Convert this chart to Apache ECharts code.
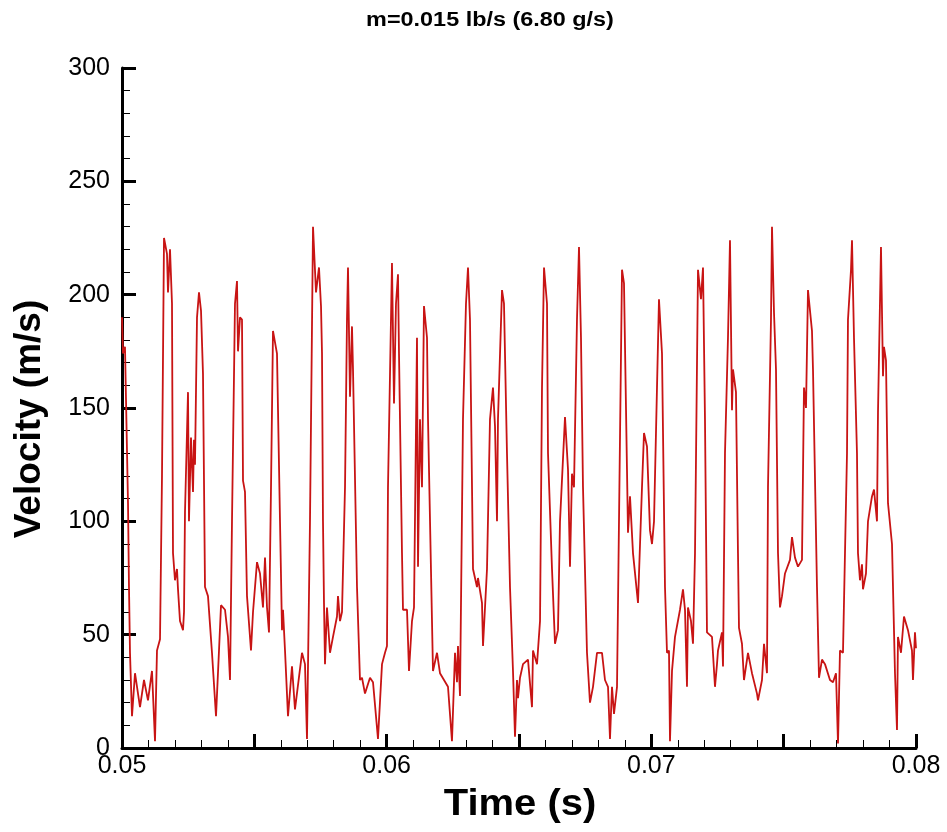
<!DOCTYPE html>
<html>
<head>
<meta charset="utf-8">
<script src="https://cdn.jsdelivr.net/npm/echarts@6/dist/echarts.min.js"></script>
<style>
html,body{margin:0;padding:0;background:#fff;}
#chart{width:947px;height:832px;}
</style>
</head>
<body>
<div id="chart"></div>
<script>
// Time in milliseconds
var timeMs = [50.000,50.038,50.113,50.151,50.227,50.264,50.302,50.378,50.491,50.680,50.831,50.982,51.133,51.247,51.322,51.436,51.511,51.587,51.700,51.738,51.814,51.889,51.927,52.002,52.078,52.116,52.191,52.305,52.343,52.380,52.494,52.531,52.607,52.683,52.720,52.758,52.834,52.909,52.985,53.060,53.136,53.249,53.400,53.552,53.665,53.741,53.892,54.005,54.081,54.156,54.269,54.345,54.383,54.458,54.534,54.572,54.647,54.723,54.874,54.950,55.101,55.214,55.327,55.403,55.479,55.554,55.630,55.705,55.856,55.970,56.045,56.083,56.159,56.272,56.423,56.536,56.801,56.914,56.990,57.103,57.217,57.330,57.443,57.519,57.557,57.594,57.632,57.670,57.745,57.859,57.972,58.123,58.161,58.237,58.312,58.426,58.501,58.539,58.615,58.690,58.728,58.879,58.992,59.068,59.181,59.370,59.484,59.672,59.824,59.937,60.012,60.050,60.201,60.277,60.352,60.428,60.466,60.579,60.617,60.768,60.844,60.957,61.033,61.146,61.184,61.259,61.335,61.410,61.524,61.562,61.750,61.902,62.015,62.317,62.468,62.582,62.657,62.695,62.771,62.884,62.997,63.073,63.148,63.262,63.413,63.451,63.602,63.640,63.791,63.904,64.017,64.093,64.169,64.206,64.358,64.433,64.546,64.660,64.773,64.849,64.924,64.962,65.038,65.151,65.340,65.491,65.529,65.680,65.794,65.869,65.945,66.058,66.096,66.247,66.360,66.473,66.549,66.738,66.851,66.927,67.002,67.078,67.191,67.267,67.342,67.418,67.569,67.682,67.796,67.947,68.136,68.249,68.363,68.438,68.514,68.589,68.703,68.778,68.892,68.967,69.080,69.118,69.194,69.307,69.496,69.647,69.723,69.836,69.949,70.025,70.101,70.214,70.289,70.403,70.516,70.592,70.667,70.705,70.781,70.894,71.083,71.196,71.272,71.347,71.385,71.498,71.574,71.650,71.763,71.876,71.952,72.027,72.103,72.292,72.405,72.481,72.519,72.670,72.708,72.783,72.896,72.972,73.048,73.085,73.198,73.274,73.312,73.425,73.501,73.652,73.803,73.992,74.030,74.181,74.257,74.370,74.408,74.521,74.559,74.635,74.710,74.786,74.861,74.937,75.050,75.239,75.315,75.428,75.541,75.692,75.768,75.844,75.919,76.070,76.108,76.259,76.335,76.448,76.561,76.750,76.864,76.977,77.053,77.128,77.241,77.393,77.430,77.544,77.582,77.657,77.770,77.808,77.884,77.959,77.997,78.110,78.186,78.337,78.413,78.526,78.564,78.677,78.753,78.790,78.866,78.942,79.093,79.206,79.282,79.319,79.433,79.546,79.697,79.848,79.886,79.961,80.000];
// Velocity in m/s
var velocity = [190,174,177,154,108,71,42,14,33,18,30,21,34,3,43,48,120,225,218,201,220,196,86,74,79,70,56,52,60,104,157,100,137,113,136,125,190,201,193,165,71,67,42,14,43,63,61,49,30,100,196,206,175,190,189,118,113,67,43,60,82,77,62,84,62,51,115,184,174,100,52,61,43,14,36,17,42,37,4,100,230,201,212,195,174,100,64,37,62,42,49,58,67,56,60,115,189,212,155,186,167,71,30,31,24,31,29,4,37,42,45,115,214,152,196,209,174,86,61,61,34,56,62,181,80,145,115,195,181,145,34,42,33,27,3,42,29,45,23,145,196,212,189,79,71,75,64,45,79,145,159,142,100,145,202,196,130,71,34,5,30,22,31,37,39,18,43,37,56,159,212,196,130,79,46,52,100,146,123,80,121,115,189,221,181,115,42,20,27,42,42,30,27,4,27,15,27,100,211,205,123,95,111,86,64,115,139,133,96,90,100,159,198,174,71,42,43,3,34,49,61,70,61,27,62,56,46,86,211,198,212,145,51,49,27,37,43,51,36,130,181,224,149,167,157,86,53,46,30,42,33,24,21,30,46,33,115,189,230,192,167,86,62,67,77,83,93,84,80,83,159,150,202,184,167,71,31,39,37,30,29,33,2,43,42,130,189,211,224,181,130,86,74,81,70,77,100,111,114,100,148,221,164,177,171,108,90,33,8,49,42,58,52,43,30,51,44];
var xLabels = ['0.05','0.06','0.07','0.08'];
var yTicks = [0,50,100,150,200,250,300];
var titleText = 'm=0.015 lb/s (6.80 g/s)';
var xName = 'Time (s)';
var yName = 'Velocity (m/s)';

var data = timeMs.map(function(t,i){return [t/1000, velocity[i]];});
var font = "'Liberation Sans', Arial, Helvetica, sans-serif";

var chart = echarts.init(document.getElementById('chart'), null, {renderer:'canvas'});
chart.setOption({
  animation:false,
  backgroundColor:'#ffffff',
  grid:{left:122, right:31, top:68, bottom:84, containLabel:false},
  graphic:[
    {type:'text', x:490, y:20, scaleX:1.17, style:{text:titleText, x:0, y:0, textAlign:'center', textVerticalAlign:'middle', font:'bold 20px '+font, fill:'#000'}},
    {type:'text', x:520, y:805, scaleX:1.08, style:{text:xName, x:0, y:0, textAlign:'center', textVerticalAlign:'middle', font:'bold 37px '+font, fill:'#000'}},
    {type:'text', x:30, y:419, rotation:Math.PI/2, style:{text:yName, x:0, y:0, textAlign:'center', textVerticalAlign:'middle', font:'bold 37px '+font, fill:'#000'}}
  ],
  xAxis:{
    type:'value', min:0.05, max:0.08, interval:0.005,
    axisLine:{show:true, onZero:false, lineStyle:{color:'#000', width:3}},
    axisTick:{show:true, inside:true, length:14, lineStyle:{color:'#000', width:3}},
    minorTick:{show:true, splitNumber:5, length:8, lineStyle:{color:'#000', width:1}},
    splitLine:{show:false}, minorSplitLine:{show:false},
    axisLabel:{
      color:'#000', fontSize:25, fontFamily:font, margin:6,
      formatter:function(v){
        var s = v.toFixed(2);
        return (xLabels.indexOf(s) >= 0 && Math.abs(v*100 - Math.round(v*100)) < 1e-6) ? s : '';
      }
    }
  },
  yAxis:{
    type:'value', min:yTicks[0], max:yTicks[yTicks.length-1], interval:50,
    axisLine:{show:true, onZero:false, lineStyle:{color:'#000', width:3}},
    axisTick:{show:true, inside:true, length:14, lineStyle:{color:'#000', width:3}},
    minorTick:{show:true, splitNumber:5, length:8, lineStyle:{color:'#000', width:1}},
    splitLine:{show:false}, minorSplitLine:{show:false},
    axisLabel:{color:'#000', fontSize:25, fontFamily:font, margin:12}
  },
  series:[{
    type:'line', data:data, showSymbol:false, symbol:'none',
    lineStyle:{color:'#c81414', width:1.8},
    clip:true
  }]
});
</script>
</body>
</html>
